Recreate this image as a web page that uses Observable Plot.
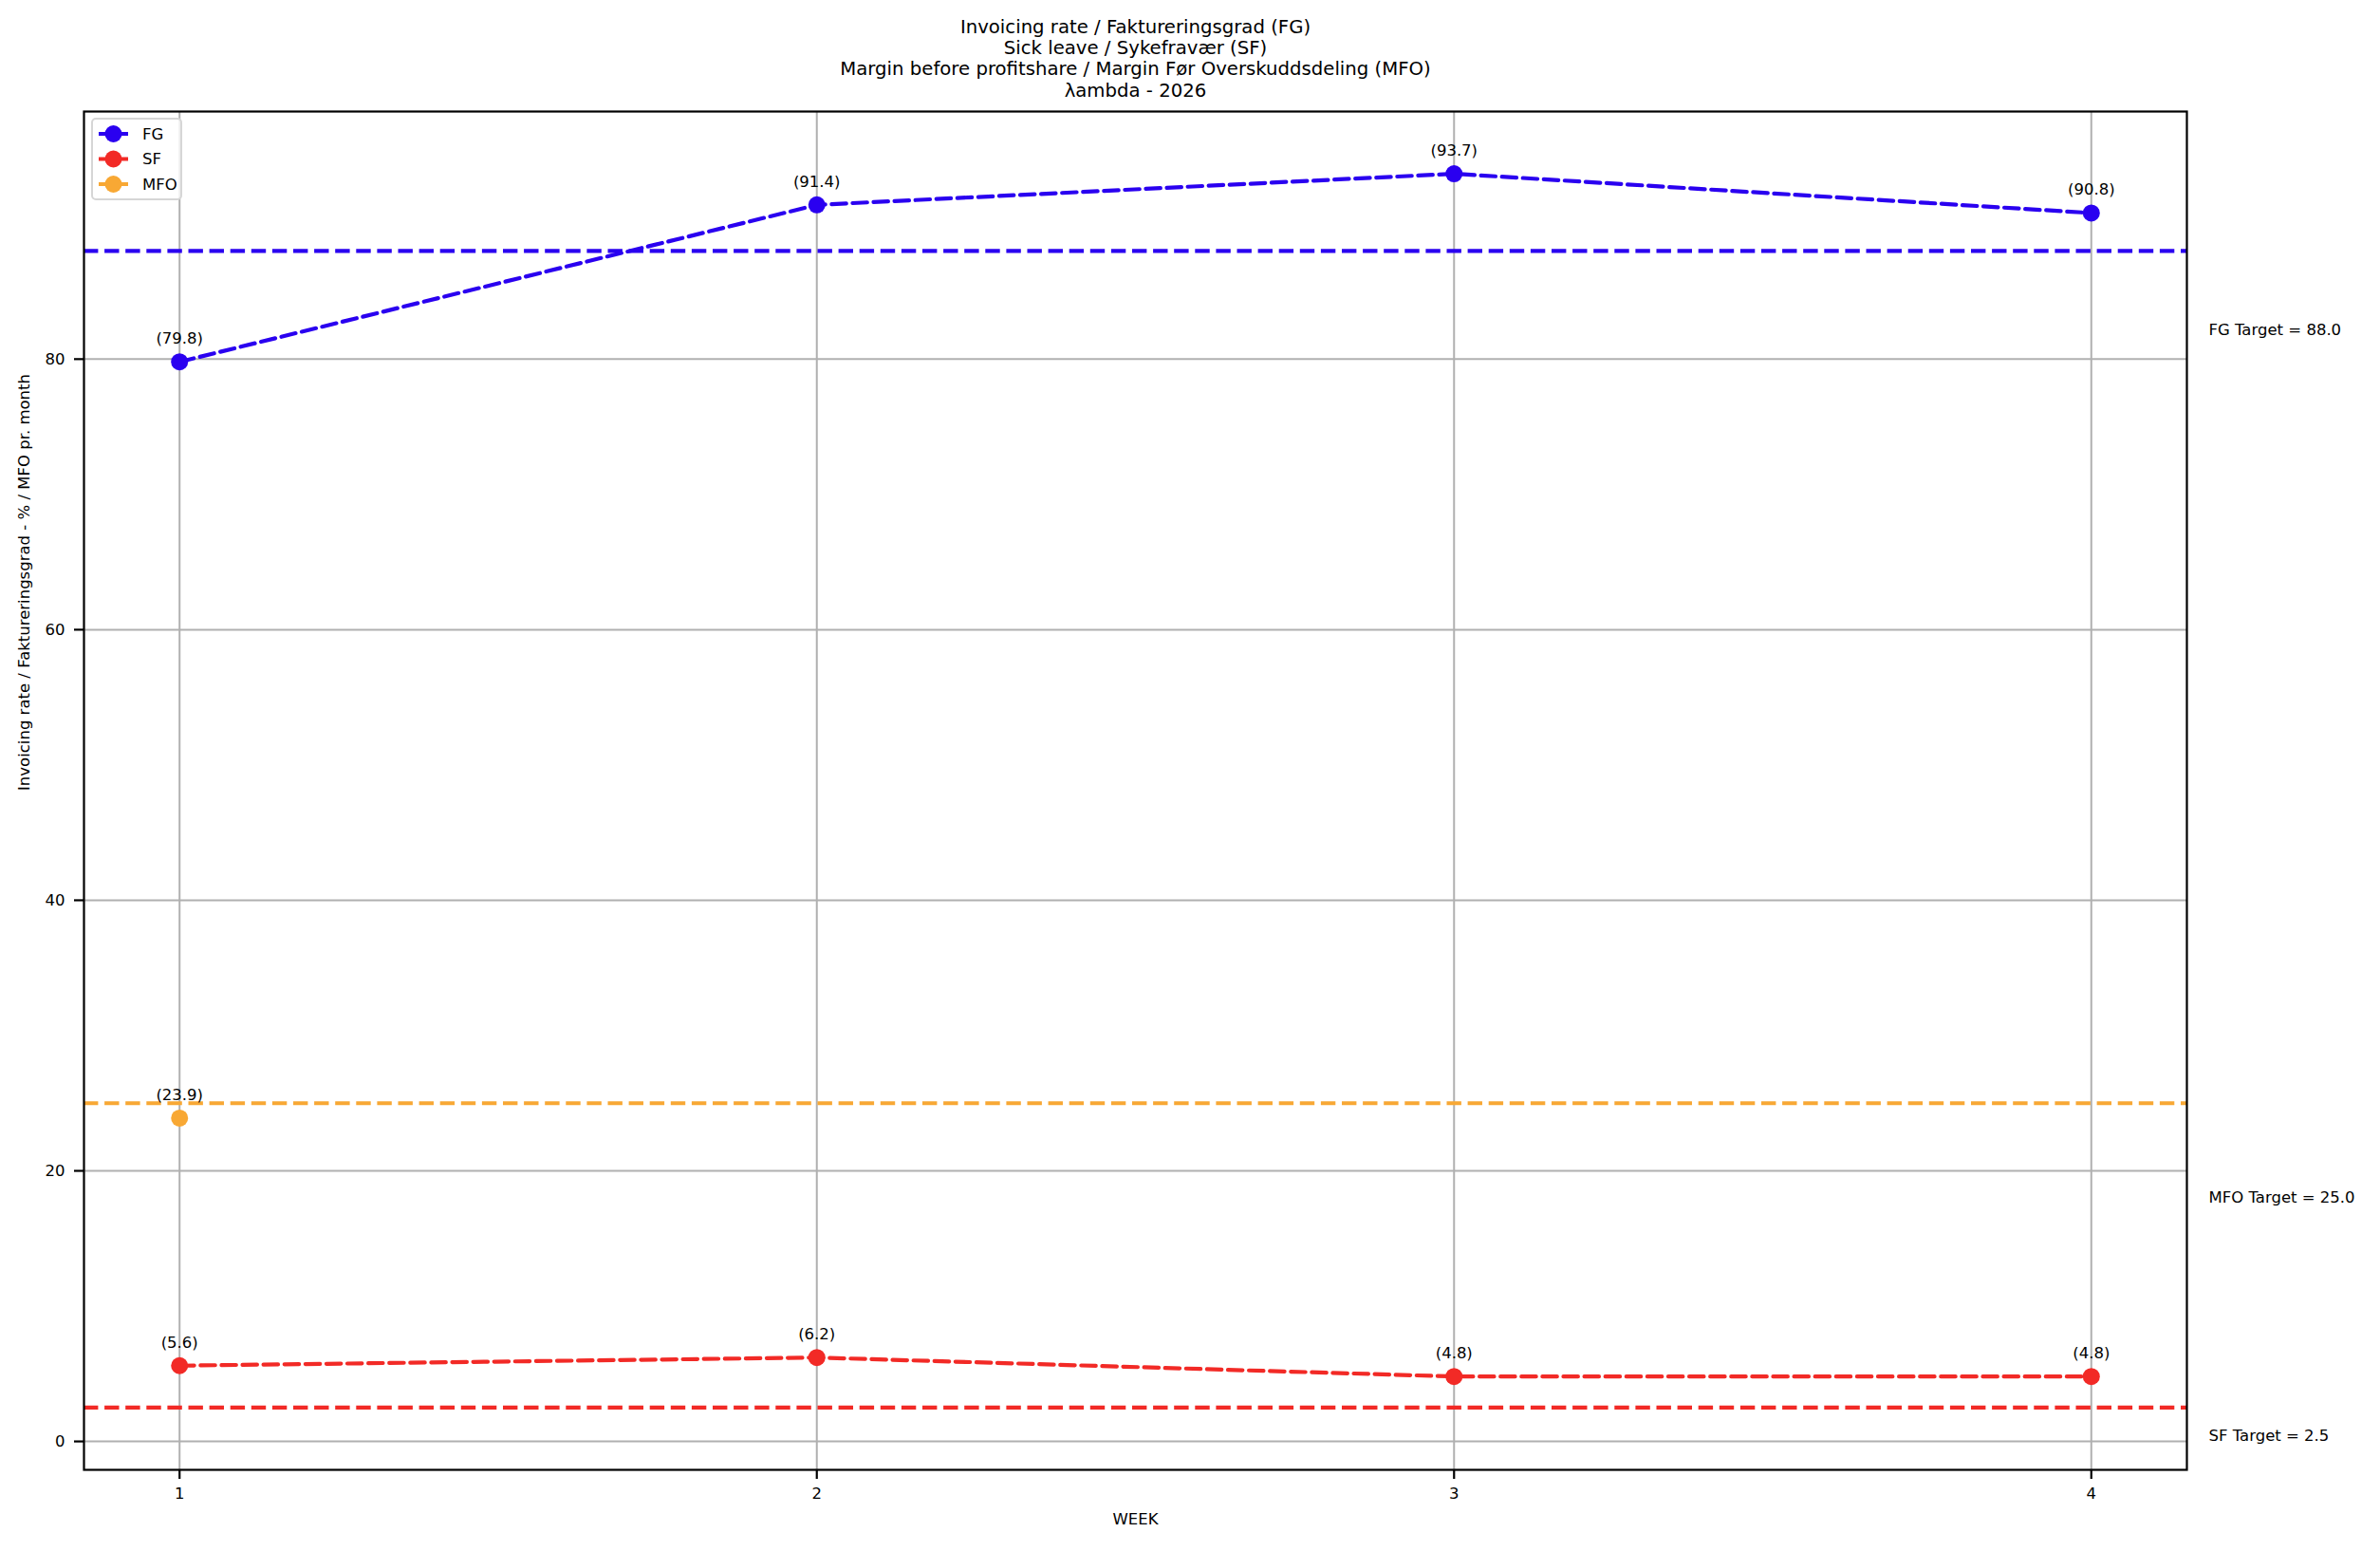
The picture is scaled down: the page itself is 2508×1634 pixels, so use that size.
<!DOCTYPE html>
<html>
<head>
<meta charset="utf-8">
<script src="https://cdn.jsdelivr.net/npm/d3@7"></script>
<script src="https://cdn.jsdelivr.net/npm/@observablehq/plot@0.6"></script>
<style>
  html, body { margin: 0; padding: 0; background: white; }
  #wrap { position: relative; width: 2508px; height: 1634px; font-family: "DejaVu Sans", sans-serif; }
  #legend { position: absolute; left: 96px; top: 124px; width: 96px; height: 87px;
            border: 2px solid #d6d6d6; border-radius: 5px; background: rgba(255,255,255,0.8); box-sizing: border-box; }
</style>
</head>
<body>
<div id="wrap"></div>
<script>
// ---- data ----
const weeks = [1, 2, 3, 4];
const fgValues = [79.8, 91.4, 93.7, 90.8];
const sfValues = [5.6, 6.2, 4.8, 4.8];
const mfoWeeks = [1];
const mfoValues = [23.9];
const seriesNames = ["FG", "SF", "MFO"];
const targetValues = [88.0, 2.5, 25.0];
const yTicks = [0, 20, 40, 60, 80];
const titleLines = [
  "Invoicing rate / Faktureringsgrad (FG)",
  "Sick leave / Sykefravær (SF)",
  "Margin before profitshare / Margin Før Overskuddsdeling (MFO)",
  "λambda - 2026"
];
const xLabel = "WEEK";
const yLabel = "Invoicing rate / Faktureringsgrad - % / MFO pr. month";

// ---- styles ----
const colors = {FG: "#2a00f0", SF: "#f22a26", MFO: "#f8a834"};
const dash = "15.4,6.7";
const lw = 4.2;

const fg = weeks.map((w, i) => ({week: w, value: fgValues[i]}));
const sf = weeks.map((w, i) => ({week: w, value: sfValues[i]}));
const mfo = mfoWeeks.map((w, i) => ({week: w, value: mfoValues[i]}));
const targets = seriesNames.map((n, i) => ({name: n, value: targetValues[i]}));
const fmt = d => `(${d.value.toFixed(1)})`;

const targetLabelDy = {FG: 83, MFO: 99, SF: 30};

const chart = Plot.plot({
  width: 2508,
  height: 1634,
  marginTop: 117,
  marginBottom: 86,
  marginLeft: 88,
  marginRight: 204,
  style: {fontFamily: "DejaVu Sans", fontSize: "16.5px", background: "white", color: "black"},
  x: {domain: [0.85, 4.15], ticks: weeks, label: null},
  y: {domain: [-2.1, 98.3], ticks: yTicks, label: null},
  marks: [
    Plot.gridX(weeks, {stroke: "#b0b0b0", strokeOpacity: 1, strokeWidth: 2}),
    Plot.gridY(yTicks, {stroke: "#b0b0b0", strokeOpacity: 1, strokeWidth: 2}),
    Plot.ruleY(targets, {y: "value", stroke: d => colors[d.name], strokeWidth: lw, strokeDasharray: dash}),
    Plot.line(fg, {x: "week", y: "value", stroke: colors.FG, strokeWidth: lw, strokeDasharray: dash}),
    Plot.line(sf, {x: "week", y: "value", stroke: colors.SF, strokeWidth: lw, strokeDasharray: dash}),
    Plot.dot(fg, {x: "week", y: "value", r: 9, fill: colors.FG, stroke: null}),
    Plot.dot(sf, {x: "week", y: "value", r: 9, fill: colors.SF, stroke: null}),
    Plot.dot(mfo, {x: "week", y: "value", r: 9, fill: colors.MFO, stroke: null}),
    Plot.text(fg, {x: "week", y: "value", text: fmt, dy: -24.5, fill: "black"}),
    Plot.text(sf, {x: "week", y: "value", text: fmt, dy: -24.5, fill: "black"}),
    Plot.text(mfo, {x: "week", y: "value", text: fmt, dy: -24.5, fill: "black"}),
    ...seriesNames.map(n => Plot.text(targets.filter(t => t.name === n), {
      y: "value", frameAnchor: "right", dx: 23, dy: targetLabelDy[n], textAnchor: "start",
      text: d => `${d.name} Target = ${d.value.toFixed(1)}`, fill: "black"
    })),
    Plot.frame({stroke: "black", strokeWidth: 2.2}),
    Plot.axisX({ticks: weeks, tickFormat: d => String(d), tickSize: 10, tickPadding: 9, strokeWidth: 2.2, label: null, fontSize: 16.5}),
    Plot.axisY({ticks: yTicks, tickFormat: d => String(d), tickSize: 10, tickPadding: 10, strokeWidth: 2.2, label: null, fontSize: 16.5}),
    Plot.text([titleLines.join("\n")], {frameAnchor: "top", lineAnchor: "bottom", dy: -16, fontSize: 19.7, lineHeight: 1.13, fill: "black"}),
    Plot.text([xLabel], {frameAnchor: "bottom", dy: 57, fill: "black"}),
    Plot.text([yLabel], {frameAnchor: "left", rotate: -90, dx: -63, fill: "black"})
  ]
});

const wrap = document.getElementById("wrap");
wrap.appendChild(chart);

// ---- legend ----
const legend = document.createElement("div");
legend.id = "legend";
const ns = "http://www.w3.org/2000/svg";
const lsvg = document.createElementNS(ns, "svg");
lsvg.setAttribute("width", 92);
lsvg.setAttribute("height", 83);
lsvg.style.position = "absolute";
lsvg.style.left = "0px";
lsvg.style.top = "0px";
seriesNames.forEach((n, i) => {
  const cy = 15 + i * 26.5;
  const line = document.createElementNS(ns, "line");
  line.setAttribute("x1", 6); line.setAttribute("x2", 37);
  line.setAttribute("y1", cy); line.setAttribute("y2", cy);
  line.setAttribute("stroke", colors[n]); line.setAttribute("stroke-width", lw);
  line.setAttribute("stroke-dasharray", dash);
  lsvg.appendChild(line);
  const c = document.createElementNS(ns, "circle");
  c.setAttribute("cx", 21.5); c.setAttribute("cy", cy); c.setAttribute("r", 9);
  c.setAttribute("fill", colors[n]);
  lsvg.appendChild(c);
  const t = document.createElementNS(ns, "text");
  t.setAttribute("x", 52); t.setAttribute("y", cy); t.setAttribute("dy", "0.35em");
  t.setAttribute("font-family", "DejaVu Sans"); t.setAttribute("font-size", "16.5px");
  t.textContent = n;
  lsvg.appendChild(t);
});
legend.appendChild(lsvg);
wrap.appendChild(legend);
</script>
</body>
</html>
